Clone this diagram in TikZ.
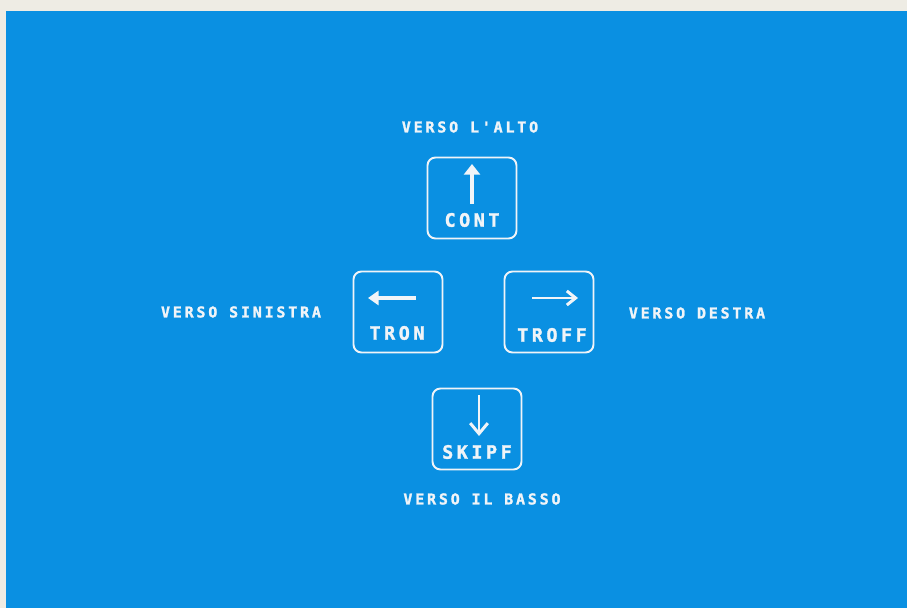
\documentclass[tikz,border=0pt]{standalone}
\usepackage{fontspec}
\newfontfamily\dotfont[LetterSpace=19,FakeBold=1.6]{DejaVu Sans Mono}
\definecolor{scrblue}{RGB}{10,144,226}
\definecolor{paper}{RGB}{238,236,228}
\definecolor{scrwhite}{RGB}{240,244,248}
\usetikzlibrary{arrows.meta,positioning,calc}

\begin{document}
\begin{tikzpicture}[x=0.02cm,y=-0.02cm,
    keybox/.style={draw=scrwhite,line width=1.1pt,rounded corners=4.5pt,
                   minimum width=1.78cm,minimum height=1.62cm},
    keytext/.style={text=scrwhite,inner sep=0pt,
                    font=\dotfont\bfseries\fontsize{10.5}{11}\selectfont},
    dirtext/.style={text=scrwhite,inner sep=0pt,
                    font=\dotfont\bfseries\fontsize{8.5}{9}\selectfont},
    keyarrow/.style={draw=scrwhite,line width=2.1pt}]
  %% paper and screen
  \fill[paper] (0,0) rectangle (907,608);
  \useasboundingbox (0,0) rectangle (907,608);
  \fill[scrblue] (6,11) rectangle (907,608);

  %% up: CONT
  \node[keybox] (cont) at (472,198) {};
  \node[keytext] (conttxt) at ($(cont.center)+(0,22)$) {CONT};
  \draw[keyarrow,-{Triangle[width=9pt,length=6pt]}]
        ($(cont.center)+(0,6)$) -- ($(cont.center)+(0,-34)$);
  \node[dirtext] (alto) at (470,127) {VERSO L'ALTO};

  %% left: TRON
  \node[keybox] (tron) at (398,312) {};
  \node[keytext] (trontxt) at ($(tron.center)+(-1,21)$) {TRON};
  \draw[keyarrow,-{Triangle[width=8pt,length=6pt]}]
        ($(tron.center)+(18,-14)$) -- ($(tron.center)+(-30,-14)$);
  \node[dirtext] (sinistra) at (241,312) {VERSO SINISTRA};

  %% right: TROFF
  \node[keybox] (troff) at (549,312) {};
  \node[keytext] (trofftxt) at ($(troff.center)+(3,23)$) {TROFF};
  \draw[keyarrow,line width=1.7pt,-{Straight Barb[width=8pt,length=5pt]}]
        ($(troff.center)+(-17,-14)$) -- ($(troff.center)+(29,-14)$);
  \node[dirtext] (destra) at (697,313) {VERSO DESTRA};

  %% down: SKIPF
  \node[keybox] (skipf) at (477,429) {};
  \node[keytext] (skipftxt) at ($(skipf.center)+(0,23)$) {SKIPF};
  \draw[keyarrow,line width=1.7pt,-{Straight Barb[width=10pt,length=6pt]}]
        ($(skipf.center)+(2,-34)$) -- ($(skipf.center)+(2,7)$);
  \node[dirtext] (basso) at (482,499) {VERSO IL BASSO};
\end{tikzpicture}
\end{document}
